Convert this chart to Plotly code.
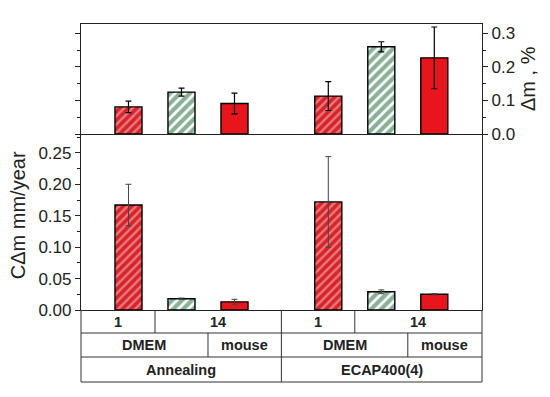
import plotly.graph_objects as go

# ---- data ----
groups = ["Annealing", "ECAP400(4)"]
media = ["DMEM", "DMEM", "mouse"]
days = ["1", "14", "14"]
styles = ["hatch_red", "hatch_green", "solid_red"]

# corrosion rate, mm/year (bottom panel) per group, per bar
rate = [[0.167, 0.018, 0.013], [0.172, 0.029, 0.025]]
rate_err = [[0.033, 0.001, 0.004], [0.072, 0.003, 0.001]]
# mass change, % (top panel)
mass = [[0.081, 0.125, 0.091], [0.113, 0.260, 0.227]]
mass_err = [[0.017, 0.012, 0.031], [0.043, 0.015, 0.092]]

rate_ticks = [0.00, 0.05, 0.10, 0.15, 0.20, 0.25]
mass_ticks = [0.0, 0.1, 0.2, 0.3]

# ---- layout helpers ----
GAP = 3.77
BW = 0.51
x_lo, x_hi = -0.896, 2 + GAP + 0.9
pos = [[g * GAP + i for i in range(len(media))] for g in range(len(groups))]

RED = "#d8232a"
SOLID = "#e8161c"
GREEN = "#15622f"
style_def = {
    "hatch_red": dict(color=RED, pattern=dict(shape="/", fgcolor="#fbd3d3", bgcolor=RED, size=6, solidity=0.4)),
    "hatch_green": dict(color="white", pattern=dict(shape="/", fgcolor=GREEN, bgcolor="white", size=7, solidity=0.6)),
    "solid_red": dict(color=SOLID),
}

fig = go.Figure()
for k, st in enumerate(styles):
    xs = [pos[g][k] for g in range(len(groups))]
    # bottom panel
    fig.add_trace(go.Bar(
        x=xs, y=[rate[g][k] for g in range(len(groups))], width=BW,
        marker=dict(**style_def[st], line=dict(color="black", width=1.4)),
        error_y=dict(type="data", array=[rate_err[g][k] for g in range(len(groups))],
                     color="#444", thickness=1, width=3),
        xaxis="x", yaxis="y", showlegend=False))
    # top panel
    fig.add_trace(go.Bar(
        x=xs, y=[mass[g][k] for g in range(len(groups))], width=BW,
        marker=dict(**style_def[st], line=dict(color="black", width=1.4)),
        error_y=dict(type="data", array=[mass_err[g][k] for g in range(len(groups))],
                     color="black", thickness=1.2, width=3),
        xaxis="x2", yaxis="y2", showlegend=False))

split = 176 / 286
ax_font = dict(family="Liberation Sans, Arial, sans-serif", size=17, color="#222")
fig.update_layout(
    width=542, height=389,
    margin=dict(l=73, r=68, t=16, b=87),
    plot_bgcolor="white", paper_bgcolor="white",
    showlegend=False,
    xaxis=dict(range=[x_lo, x_hi], anchor="y", showline=True, linecolor="#222", linewidth=1.2,
               showticklabels=False, ticks="", showgrid=False, zeroline=False),
    xaxis2=dict(range=[x_lo, x_hi], matches="x", anchor="y2", showline=True, mirror=True,
                linecolor="#222", linewidth=1.2, showticklabels=False, ticks="",
                showgrid=False, zeroline=False),
    yaxis=dict(domain=[0, split], range=[0, 0.28], anchor="x", tickvals=rate_ticks,
               tickformat=".2f", ticks="outside", ticklen=5, tickcolor="#222",
               minor=dict(dtick=0.025, ticks="outside", ticklen=3, tickcolor="#222"),
               showline=True, mirror=True, linecolor="#222", linewidth=1.2,
               showgrid=False, zeroline=False, tickfont=ax_font, automargin=False),
    yaxis2=dict(domain=[split, 1], range=[0, 0.328], anchor="x2", side="right",
                tickvals=mass_ticks, tickformat=".1f", ticks="outside", ticklen=5,
                tickcolor="#222",
                minor=dict(dtick=0.05, ticks="outside", ticklen=3, tickcolor="#222"),
                showline=True, mirror="ticks", linecolor="#222", linewidth=1.2,
                showgrid=False, zeroline=False, tickfont=ax_font, automargin=False),
)

# axis titles
title_font = dict(family="Liberation Sans, Arial, sans-serif", size=20, color="#222")
fig.add_annotation(text="CΔm mm/year", xref="paper", yref="paper", x=-0.158, y=0.33,
                   xanchor="center", yanchor="middle",
                   textangle=-90, showarrow=False, font=title_font)
fig.add_annotation(text="Δm , %", xref="paper", yref="paper", x=1.115, y=0.808,
                   xanchor="center", yanchor="middle",
                   textangle=-90, showarrow=False, font=title_font)

# ---- category table under the plot ----
row_b = [0, -23 / 286, -47 / 286, -72 / 286]
line = dict(color="#333", width=1)
tfont = dict(family="Liberation Sans, Arial, sans-serif", size=14.5, color="#222")

def spans(labels, base):
    out = []
    start = 0
    for i in range(1, len(labels) + 1):
        if i == len(labels) or labels[i] != labels[start]:
            out.append((labels[start], base[start] - 0.5, base[i - 1] + 0.5))
            start = i
    return out

# horizontal lines
for yb in row_b[1:]:
    fig.add_shape(type="line", xref="paper", yref="paper", x0=0, x1=1, y0=yb, y1=yb, line=line)
# outer verticals
for xp in (0, 1):
    fig.add_shape(type="line", xref="paper", yref="paper", x0=xp, x1=xp, y0=0, y1=row_b[-1], line=line)

group_div = [(pos[g][-1] + pos[g + 1][0]) / 2 for g in range(len(groups) - 1)]
for xd in group_div:
    fig.add_shape(type="line", xref="x", yref="paper", x0=xd, x1=xd, y0=0, y1=row_b[-1], line=line)

bounds = [x_lo] + group_div + [x_hi]
for g, gname in enumerate(groups):
    lo, hi = bounds[g], bounds[g + 1]
    for r, labels in enumerate([days, media]):
        sp = spans(labels, pos[g])
        for j, (lab, a, b) in enumerate(sp):
            a = lo if j == 0 else a
            b = hi if j == len(sp) - 1 else b
            if j > 0:
                fig.add_shape(type="line", xref="x", yref="paper", x0=a, x1=a,
                              y0=row_b[r], y1=row_b[r + 1], line=line)
            fig.add_annotation(text="<b>%s</b>" % lab, xref="x", yref="paper",
                               x=(a + b) / 2, y=(row_b[r] + row_b[r + 1]) / 2,
                               showarrow=False, font=tfont, yanchor="middle")
    fig.add_annotation(text="<b>%s</b>" % gname, xref="x", yref="paper",
                       x=(lo + hi) / 2, y=(row_b[2] + row_b[3]) / 2,
                       showarrow=False, font=tfont, yanchor="middle")

fig.write_html("out.html")
